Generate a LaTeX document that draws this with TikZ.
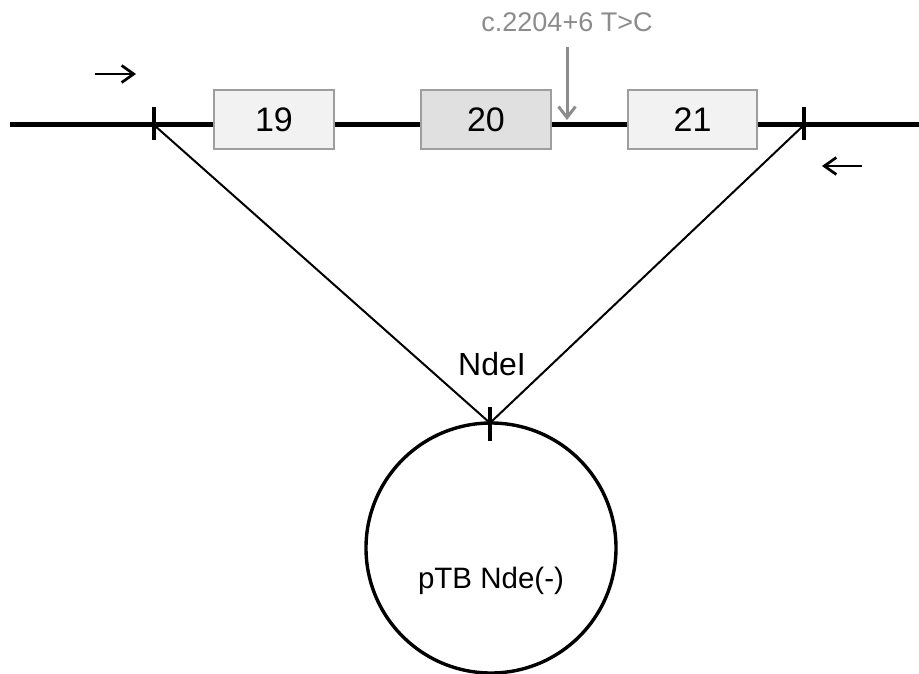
\documentclass[tikz,border=0pt]{standalone}
\usepackage{fontspec}
\setmainfont{Liberation Sans}
\usetikzlibrary{arrows.meta}
\begin{document}
\begin{tikzpicture}[x=1pt,y=-1pt,
  exon/.style={draw=black!38,line width=2pt,minimum width=120pt,minimum height=59pt,inner sep=0pt,font=\fontsize{34}{40}\selectfont},
  tickmark/.style={line width=3.6pt},
  arm/.style={line width=2pt},
  primer/.style={line width=2.7pt,-{Straight Barb[length=12pt,width=17pt,line width=2.7pt]}},
  lbl/.style={inner sep=0pt}]
\useasboundingbox (0,0) rectangle (919,674);
\coordinate (L) at (10,125);
\coordinate (R) at (919,125);
\coordinate (t1) at (154,125);
\coordinate (t2) at (804,125);
\coordinate (t3) at (490,423);
\draw[line width=5pt] (L) -- (R);
\node[exon,fill=black!5] (e19) at (274,119.5) {19};
\node[exon,fill=black!12,minimum width=130pt] (e20) at (486,119.5) {20};
\node[exon,fill=black!5,minimum width=129pt] (e21) at (692.5,119.5) {21};
\draw[tickmark] (154,107) -- (154,140);
\draw[tickmark] (804,107) -- (804,140);
\draw[arm] (t1) -- (t3) -- (t2);
\node[draw,line width=3.4pt,circle,minimum size=250pt,inner sep=0pt] (plasmid) at (491,548) {};
\draw[tickmark] (490,407) -- (490,441);
\node[lbl,font=\fontsize{32}{38}\selectfont] (ndeI) at (492,364) {NdeI};
\node[lbl,font=\fontsize{29.5}{35}\selectfont] (ptb) at (491,581) {pTB Nde(-)};
\node[lbl,font=\fontsize{27}{32}\selectfont,text=black!45] (mut) at (567,22) {c.2204+6 T>C};
\coordinate (ma) at (567,47);
\coordinate (mb) at (567,120);
\draw[line width=3pt,draw=black!45,-{Straight Barb[length=11pt,width=17pt,line width=3pt]}] (ma) -- (mb);
\coordinate (p1a) at (95,74);
\coordinate (p1b) at (136,74);
\draw[primer] (p1a) -- (p1b);
\coordinate (p2a) at (862,166);
\coordinate (p2b) at (822,166);
\draw[primer] (p2a) -- (p2b);
\end{tikzpicture}
\end{document}
